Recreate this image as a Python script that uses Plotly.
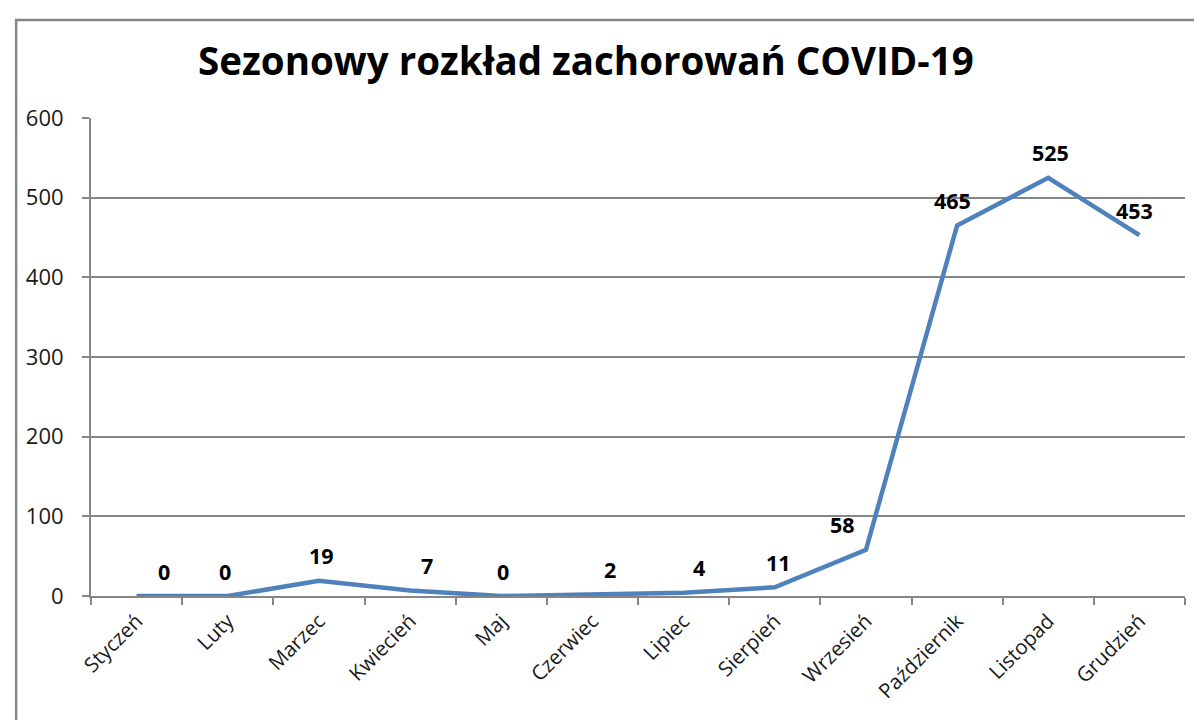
import plotly.graph_objects as go

months = ["Styczeń", "Luty", "Marzec", "Kwiecień", "Maj", "Czerwiec",
          "Lipiec", "Sierpień", "Wrzesień", "Październik", "Listopad", "Grudzień"]
cases = [0, 0, 19, 7, 0, 2, 4, 11, 58, 465, 525, 453]

# label nudges, as Excel placed them
label_dx = [27, -3, 3, 17, 2, 18, 15, 4, -23, -5, 2, -5]

FONT = "Open Sans"
GREY = "#868686"

fig = go.Figure()
fig.add_trace(
    go.Scatter(
        x=months, y=cases,
        mode="lines",
        line=dict(color="#4f81bd", width=4.5),
        hoverinfo="x+y",
        showlegend=False,
    )
)

for m, v, dx in zip(months, cases, label_dx):
    fig.add_annotation(
        x=m, y=v, text=f"<b>{v}</b>", showarrow=False,
        xshift=dx, yshift=25,
        font=dict(family=FONT, size=21.5, color="#000000"),
    )

# outer chart border (cut off on right/bottom like the screenshot)
fig.add_shape(type="rect", xref="paper", yref="paper",
              x0=-0.0684, x1=1.2, y0=-0.5, y1=1.205,
              line=dict(color=GREY, width=2.5), layer="below")

fig.update_layout(
    width=1194, height=712,
    margin=dict(l=83, r=17, t=110, b=124),
    paper_bgcolor="white", plot_bgcolor="white",
    title=dict(text="<b>Sezonowy rozkład zachorowań COVID-19</b>",
               x=0.484, xanchor="center", y=0.925, yanchor="middle",
               font=dict(family=FONT, size=38.5, color="#000000")),
    font=dict(family=FONT, size=19, color="#1a1a1a"),
)
fig.update_xaxes(
    type="category", range=[-0.5, 11.5],
    showline=True, linecolor=GREY, linewidth=2,
    ticks="outside", tickson="boundaries", ticklen=7, tickcolor=GREY, tickwidth=2,
    tickangle=-45, tickfont=dict(size=20.5), ticklabelstandoff=3,
    showgrid=False, zeroline=False,
)
fig.update_yaxes(
    range=[0, 600], dtick=100,
    showline=True, linecolor=GREY, linewidth=2,
    ticks="outside", ticklen=7, tickcolor=GREY, tickwidth=2,
    ticklabelstandoff=14,
    showgrid=True, gridcolor=GREY, gridwidth=1.5,
    zeroline=False, tickfont=dict(size=22),
)

fig.write_html("out.html")
